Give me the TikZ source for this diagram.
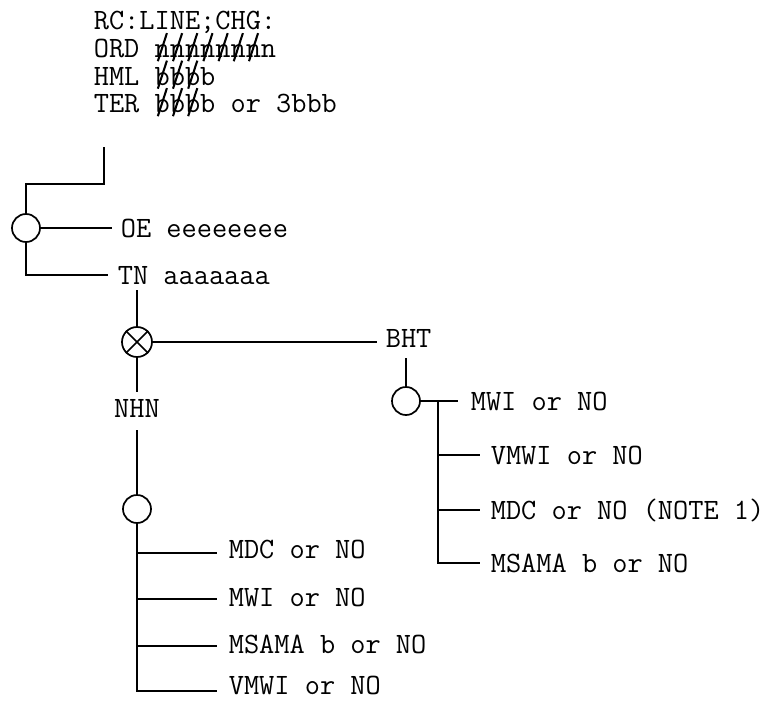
\documentclass[tikz,border=0pt]{standalone}
\usepackage{fontspec}
\newcommand{\lblfont}{\ttfamily\addfontfeatures{FakeBold=2.5}\fontsize{29.5}{27.5}\selectfont}
\newcommand{\strk}[1]{\makebox[0pt][l]{\makebox[0.525em]{\rotatebox{-18}{\rule[-0.12em]{0.07em}{1.0em}}}}#1}
\begin{document}
\begin{tikzpicture}[x=1pt,y=-1pt,line width=1.7pt,
  lbl/.style={anchor=base west,inner sep=0pt,font=\lblfont},
  ring/.style={circle,draw,minimum size=28pt,inner sep=0pt}]
\useasboundingbox (0,0) rectangle (766,701);
% header block
\node[lbl] (h1) at (93,30) {RC:LINE;CHG:};
\node[lbl] (h2) at (93,57.5) {ORD \strk{n}\strk{n}\strk{n}\strk{n}\strk{n}\strk{n}\strk{n}n};
\node[lbl] (h3) at (93,85) {HML \strk{b}\strk{b}\strk{b}b};
\node[lbl] (h4) at (93,112.5) {TER \strk{b}\strk{b}\strk{b}b or 3bbb};
% junction symbols
\node[ring] (c1) at (26,228) {};
\node[ring,minimum size=30pt] (x1) at (137,342) {};
\draw (x1.45) -- (x1.225) (x1.135) -- (x1.315);
\node[ring] (c2) at (406,401) {};
\node[ring] (c3) at (137,509) {};
% labels
\node[lbl] (oe) at (120,237) {OE eeeeeeee};
\node[lbl] (tn) at (117,284) {TN aaaaaaa};
\node[lbl] (bht) at (385,347) {BHT};
\node[lbl,anchor=base] (nhn) at (137,417) {NHN};
\node[lbl] (r1) at (470,410) {MWI or NO};
\node[lbl] (r2) at (490,464) {VMWI or NO};
\node[lbl] (r3) at (490,519) {MDC or NO (NOTE 1)};
\node[lbl] (r4) at (490,572) {MSAMA b or NO};
\node[lbl] (d1) at (228,558) {MDC or NO};
\node[lbl] (d2) at (228,606) {MWI or NO};
\node[lbl] (d3) at (228,653) {MSAMA b or NO};
\node[lbl] (d4) at (228,694) {VMWI or NO};
% free ends
\coordinate (t0) at (104,147);
\coordinate (t1) at (26,184);
\coordinate (oeL) at (112,228);
\coordinate (tnL) at (108,275);
\coordinate (xt) at (137,290);
\coordinate (bhtL) at (377,342);
\coordinate (nhnT) at (137,392);
\coordinate (nhnB) at (137,430);
\coordinate (bhtB) at (406,358);
\coordinate (r1L) at (458,401);
\coordinate (rv) at (438,401);
\coordinate (r2L) at (480,455);
\coordinate (r3L) at (480,510);
\coordinate (r4L) at (480,563);
\coordinate (d1L) at (217,553);
\coordinate (d2L) at (217,599);
\coordinate (d3L) at (217,646);
\coordinate (d4L) at (217,691);
% connectors
\draw (t0) |- (t1) -- (c1.north);
\draw (c1.east) -- (oeL);
\draw (c1.south) |- (tnL);
\draw (xt) -- (x1.north);
\draw (x1.east) -- (bhtL);
\draw (x1.south) -- (nhnT);
\draw (nhnB) -- (c3.north);
\draw (bhtB) -- (c2.north);
\draw (c2.east) -- (r1L);
\draw (rv) |- (r4L);
\draw (rv |- r2L) -- (r2L);
\draw (rv |- r3L) -- (r3L);
\draw (c3.south) |- (d4L);
\draw (c3.south |- d1L) -- (d1L);
\draw (c3.south |- d2L) -- (d2L);
\draw (c3.south |- d3L) -- (d3L);
\end{tikzpicture}
\end{document}
